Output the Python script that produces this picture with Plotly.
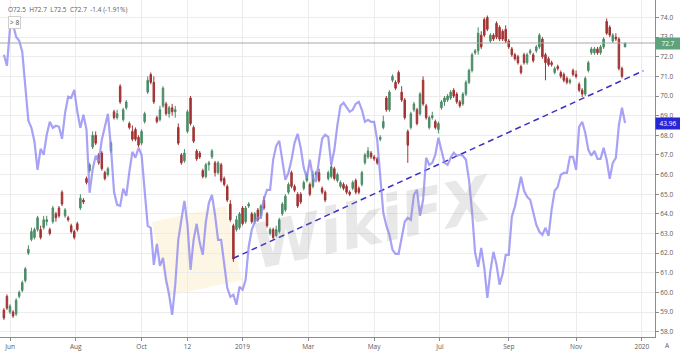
import pandas as pd
import plotly.graph_objects as go

# ---------------- data ----------------
start_date = "2018-05-28"   # first bar; one bar every two sessions

opens = [59.1,59.8,59.0,59.0,58.9,59.8,60.1,60.6,62.0,62.7,
 62.8,63.2,63.2,63.3,63.6,63.2,63.6,64.0,64.3,65.1,
 63.9,63.8,63.4,63.1,63.5,64.3,64.7,65.8,66.2,67.4,
 68.0,67.0,67.1,66.1,66.0,67.2,69.2,68.9,70.5,68.8,
 69.4,68.6,68.2,68.3,67.9,67.6,68.7,70.2,71.1,70.7,
 68.9,68.8,69.5,69.6,69.1,69.4,69.2,68.4,67.0,66.7,
 68.2,69.9,68.4,67.2,67.1,66.2,65.9,66.5,66.9,66.6,
 66.1,66.5,65.8,65.4,64.5,63.4,63.2,63.3,64.3,63.6,
 64.4,64.0,63.6,64.2,63.9,64.7,64.0,63.0,63.2,62.9,
 63.1,64.0,64.2,65.1,66.1,65.4,65.0,65.0,65.3,65.7,
 65.5,65.4,66.0,66.1,65.3,65.1,65.8,65.9,66.3,65.7,
 65.4,65.5,65.4,65.1,65.3,65.7,65.3,65.5,66.6,66.9,
 67.1,66.9,66.8,67.8,68.4,69.9,69.3,70.8,70.7,71.2,
 70.2,69.8,68.2,68.4,69.3,69.3,69.1,70.8,69.5,68.4,
 68.9,68.7,68.3,69.4,69.7,69.8,69.9,70.3,70.1,69.7,
 69.6,70.1,70.7,71.3,72.2,72.3,73.1,73.9,74.0,72.8,
 73.1,73.7,73.5,73.3,73.4,72.8,72.4,72.1,72.0,71.5,
 72.1,71.7,72.2,72.1,72.3,72.5,72.9,72.1,71.9,71.7,
 71.2,71.5,71.2,71.1,70.9,70.7,71.3,71.1,70.6,70.3,
 70.1,71.3,72.2,72.2,72.4,72.2,72.5,73.8,73.5,72.8,
 73.0,72.9,71.4,72.5]

highs = [59.2,59.9,59.4,59.1,59.7,60.1,60.6,61.3,62.4,63.3,
 63.3,63.9,63.4,63.9,63.9,63.3,64.4,64.1,64.4,65.2,
 64.3,63.9,63.5,63.2,63.6,65.0,64.8,65.9,66.6,68.2,
 68.2,67.1,67.2,66.2,66.4,67.7,69.3,69.3,70.6,69.4,
 69.8,68.7,68.5,68.4,68.0,68.3,69.2,71.0,71.2,71.0,
 69.0,69.5,70.5,69.7,69.5,69.6,69.5,68.6,67.1,67.3,
 69.3,70.0,68.5,67.3,67.2,66.3,66.6,66.7,67.3,66.7,
 66.7,66.6,65.9,65.5,64.7,63.5,63.9,64.1,64.4,64.4,
 64.6,64.1,64.1,64.3,64.5,64.9,64.1,63.3,63.3,63.4,
 63.8,64.6,65.0,65.6,66.2,65.5,65.1,65.1,65.7,66.1,
 65.6,66.2,66.2,66.3,65.4,65.2,66.2,66.6,66.4,66.1,
 65.7,65.6,65.5,65.2,65.7,65.8,65.4,66.2,67.1,67.4,
 67.2,67.0,66.9,68.0,69.0,70.0,70.3,71.1,70.8,71.3,
 70.5,69.9,68.3,69.2,69.7,69.4,70.2,71.0,69.6,69.0,
 69.2,68.8,68.7,69.8,70.0,70.1,70.3,70.4,70.2,69.8,
 70.2,70.8,71.4,72.2,72.4,73.5,73.3,74.0,74.1,73.2,
 73.2,73.8,73.6,73.4,73.6,72.9,72.5,72.2,72.1,71.6,
 72.2,72.2,72.4,72.2,72.6,73.2,73.0,72.2,72.0,71.8,
 71.5,71.6,71.3,71.2,71.0,70.9,71.4,71.3,70.7,70.4,
 71.0,71.8,72.5,72.5,72.5,72.6,73.0,73.95,73.6,73.2,
 73.2,73.0,71.5,72.7]

lows = [58.6,59.1,58.9,58.7,58.8,59.7,60.0,60.5,61.9,62.6,
 62.7,63.1,62.7,63.2,63.4,62.9,63.5,63.6,63.8,64.4,
 63.8,63.6,63.0,62.7,63.1,64.2,64.5,65.5,66.1,67.3,
 67.5,66.5,66.2,65.7,65.9,67.1,68.8,68.8,69.6,68.7,
 69.3,68.3,67.7,67.7,67.4,67.5,68.6,70.1,70.6,69.6,
 68.6,68.7,69.4,69.0,68.9,69.0,68.9,67.5,66.5,66.6,
 68.1,68.5,67.6,66.7,66.8,65.8,65.8,66.2,66.8,65.9,
 66.0,65.6,65.4,64.6,63.6,61.55,63.1,63.2,63.4,63.5,
 64.3,63.5,63.5,63.6,63.8,64.2,63.3,62.9,62.7,62.8,
 63.0,63.9,64.1,65.0,65.3,65.1,64.3,64.5,65.2,65.6,
 64.9,65.3,65.8,65.6,65.0,64.6,65.7,65.8,65.7,65.6,
 65.3,65.2,65.0,64.9,65.2,65.0,65.0,65.4,66.5,66.8,
 66.8,66.7,66.5,67.7,68.3,69.2,69.2,70.7,70.3,70.6,
 69.7,68.8,66.6,68.3,69.2,68.5,69.0,69.5,68.8,68.3,
 68.8,68.3,68.1,69.3,69.5,69.7,69.8,69.9,69.6,69.4,
 69.5,70.0,70.6,71.2,72.1,72.1,72.4,73.0,73.3,72.7,
 72.8,72.9,72.8,72.8,72.7,72.4,72.0,71.8,71.6,71.1,
 71.6,71.6,72.1,71.7,72.2,72.4,71.9,70.8,71.5,71.5,
 71.1,71.3,70.9,70.7,70.6,70.6,71.0,70.9,70.2,69.95,
 70.0,71.2,72.1,72.1,72.1,72.1,72.4,73.1,73.0,72.7,
 72.8,71.3,70.9,72.5]

closes = [58.7,59.2,59.3,58.8,59.6,60.0,60.5,61.2,62.2,63.1,
 63.2,63.8,62.8,63.7,63.7,63.0,64.3,63.8,63.9,64.5,
 64.2,63.7,63.1,62.8,63.2,64.8,64.6,65.6,66.5,68.0,
 67.6,66.6,66.3,65.8,66.3,67.6,68.9,69.1,69.7,69.3,
 69.7,68.4,67.8,67.8,67.5,68.2,69.1,70.8,70.7,69.7,
 68.7,69.3,70.4,69.1,69.4,69.2,69.3,67.6,66.6,67.1,
 69.2,68.6,67.7,66.8,66.9,65.9,66.5,66.6,67.2,66.1,
 66.6,65.7,65.5,64.7,63.7,61.7,63.7,64.0,63.5,64.3,
 64.5,63.6,64.0,63.7,64.4,64.3,63.4,63.2,62.8,63.2,
 63.7,64.5,64.9,65.5,65.4,65.2,64.4,64.6,65.6,66.0,
 65.0,66.0,66.1,65.7,65.1,64.7,66.1,66.4,65.8,66.0,
 65.6,65.3,65.1,65.0,65.6,65.1,65.1,66.1,67.0,67.2,
 66.9,66.8,66.6,67.9,68.7,69.3,70.2,71.0,70.4,70.7,
 69.8,68.9,67.5,69.1,69.6,68.6,70.1,69.6,68.9,68.9,
 69.0,68.4,68.6,69.7,69.9,70.0,70.2,70.0,69.7,69.5,
 70.1,70.7,71.3,72.1,72.3,73.2,72.5,73.1,73.4,73.1,
 72.9,73.0,72.9,72.9,72.8,72.5,72.1,71.9,71.7,71.2,
 71.7,72.1,72.3,71.8,72.5,73.1,72.0,71.7,71.6,71.6,
 71.4,71.4,71.0,70.8,70.7,70.8,71.1,71.0,70.3,70.1,
 70.9,71.7,72.4,72.4,72.2,72.5,72.9,73.2,73.1,73.1,
 72.9,71.4,71.0,72.7]

# overlay indicator (own hidden scale, last value 43.96)
overlay = [57.6,55.4,63.0,63.6,61.2,60.4,58.2,50.6,44.4,43.0,
 40.2,34.6,38.8,37.6,41.6,44.2,43.0,43.4,43.2,40.8,
 46.0,49.2,49.0,50.6,46.2,43.0,45.6,42.6,30.0,34.6,
 37.4,36.2,40.6,43.2,45.8,39.0,30.2,27.6,27.4,30.8,
 29.4,34.2,38.2,37.0,39.0,37.6,30.2,23.4,23.0,15.6,
 19.8,15.4,17.0,12.6,9.6,5.6,11.6,20.6,24.6,28.4,
 23.6,14.6,20.6,23.8,20.0,17.6,24.2,28.0,29.6,25.6,
 20.6,20.6,15.8,11.0,9.2,9.6,7.6,11.2,10.6,12.6,
 19.2,22.6,24.2,25.0,25.0,28.8,30.6,30.6,36.6,39.4,
 40.4,36.0,32.6,34.0,36.6,40.0,41.8,39.0,35.0,33.0,
 36.6,33.0,32.2,36.6,40.8,41.6,41.2,35.6,38.6,43.6,
 47.4,48.0,47.0,46.2,46.6,47.8,48.2,46.6,44.2,44.6,
 44.2,44.2,40.6,33.6,26.0,23.4,21.6,18.6,17.8,17.8,
 21.2,24.2,25.0,24.6,29.6,30.6,25.4,28.6,37.0,35.6,
 36.0,37.6,41.0,38.4,36.0,35.6,37.0,38.0,37.4,37.6,
 37.4,36.6,32.6,26.2,18.0,15.2,19.0,15.0,9.0,14.4,
 18.2,15.6,11.6,13.8,17.6,17.6,25.2,27.2,30.0,33.2,
 30.4,29.2,28.6,26.0,23.6,22.2,21.6,23.0,21.4,26.6,
 30.4,31.2,33.6,34.0,34.0,37.2,37.2,34.6,43.2,44.2,
 42.0,38.6,37.4,38.4,36.8,36.8,39.0,36.6,32.8,36.0,
 37.0,43.6,47.0,43.96]

trend_dates = ["2018-12-24", "2020-01-02"]
trend_values = [61.74, 71.29]

tick_dates = ["2018-06-01", "2018-08-01", "2018-10-01", "2018-11-12", "2019-01-01",
              "2019-03-01", "2019-05-01", "2019-07-01", "2019-09-02", "2019-11-01", "2020-01-01"]
tick_labels = ["Jun", "Aug", "Oct", "12", "2019", "Mar", "May", "Jul", "Sep", "Nov", "2020"]

header_text = "O72.5  H72.7  L72.5  C72.7  -1.4 (-1.91%)"

# ---------------- figure ----------------
dates = pd.bdate_range(start_date, periods=2 * len(closes))[::2]

UP = "#4b8c66"
DN = "#a23434"
FONT = "Open Sans"
TXT = "#5a5a5a"
GRID = "#ececec"

PW, PH = 655, 337
def px(x):
    return x / PW
def py(y):
    return 1 - y / PH

fig = go.Figure()
fig.add_trace(go.Candlestick(
    x=dates, open=opens, high=highs, low=lows, close=closes,
    increasing=dict(line=dict(color=UP, width=1), fillcolor=UP),
    decreasing=dict(line=dict(color=DN, width=1), fillcolor=DN),
    whiskerwidth=0, showlegend=False, hoverinfo="skip"))
fig.add_trace(go.Scatter(
    x=trend_dates, y=trend_values, mode="lines",
    line=dict(color="#3a30c6", width=1.5, dash="6px,4px"),
    showlegend=False, hoverinfo="skip"))
fig.add_trace(go.Scatter(
    x=dates, y=overlay, yaxis="y2", mode="lines",
    line=dict(color="rgba(142,136,243,0.78)", width=2.2),
    showlegend=False, hoverinfo="skip"))

fig.update_layout(
    width=680, height=351,
    margin=dict(l=0, r=25, t=0, b=14),
    paper_bgcolor="white", plot_bgcolor="white",
    font=dict(family=FONT, size=6.5, color=TXT),
    xaxis=dict(
        type="date",
        range=["2018-05-23 11:00", "2020-01-13 14:00"],
        rangebreaks=[dict(bounds=["sat", "mon"])],
        rangeslider=dict(visible=False),
        tickvals=tick_dates, ticktext=tick_labels,
        showgrid=True, gridcolor=GRID, gridwidth=1,
        showline=True, linecolor="#8c8c8c", linewidth=1,
        ticks="outside", ticklen=3, tickcolor="#8c8c8c",
        tickfont=dict(size=6.5, color=TXT), automargin=False, zeroline=False),
    yaxis=dict(
        side="right", range=[57.73, 74.89], dtick=1, tickformat=".1f",
        showgrid=True, gridcolor=GRID, gridwidth=1,
        showline=True, linecolor="#8c8c8c", linewidth=1,
        ticks="outside", ticklen=3, tickcolor="#8c8c8c",
        tickfont=dict(size=6.5, color=TXT), automargin=False, zeroline=False),
    yaxis2=dict(overlaying="y", range=[1.16, 68.56], visible=False, side="right"),
)

# last price line
fig.add_shape(type="line", xref="paper", x0=0, x1=1, yref="y",
              y0=closes[-1], y1=closes[-1], line=dict(color="#a8a8a8", width=1))

# watermark
fig.add_shape(type="path", xref="paper", yref="paper",
              path=f"M {px(152)} {py(222)} L {px(226)} {py(206)} L {px(242)} {py(280)} L {px(168)} {py(296)} Z",
              fillcolor="rgba(250,214,130,0.22)", line=dict(width=0), layer="below")
fig.add_annotation(xref="paper", yref="paper", x=px(372), y=py(222),
                   text="<b><i>WikiFX</i></b>", showarrow=False, textangle=-12,
                   font=dict(family="DejaVu Sans", size=62, color="rgba(150,150,150,0.22)"))

# header text and indicator chip
fig.add_annotation(xref="paper", yref="paper", x=px(6), y=py(9), xanchor="left", yanchor="middle",
                   text=header_text, showarrow=False, font=dict(size=6.5, color=TXT))
fig.add_annotation(xref="paper", yref="paper", x=px(8), y=py(22), xanchor="left", yanchor="middle",
                   text="&gt; 8", showarrow=False, font=dict(size=6.5, color="#444"),
                   bgcolor="white", bordercolor="#cfcfcf", borderwidth=1, borderpad=1)

# right-axis value labels
fig.add_annotation(xref="paper", yref="y", x=1, y=closes[-1], xanchor="left", yanchor="middle",
                   text=f"{closes[-1]:.1f}", showarrow=False, width=22, height=9,
                   bgcolor="#5fa27c", font=dict(size=6.5, color="white"))
fig.add_annotation(xref="paper", yref="y2", x=1, y=overlay[-1], xanchor="left", yanchor="middle",
                   text=f"{overlay[-1]:.2f}", showarrow=False, width=22, height=9,
                   bgcolor="#2626d6", font=dict(size=6.5, color="white"))
fig.add_annotation(xref="paper", yref="paper", x=px(667), y=py(345), xanchor="center", yanchor="middle",
                   text="A", showarrow=False, font=dict(size=6.5, color=TXT))

fig.write_html("out.html")
